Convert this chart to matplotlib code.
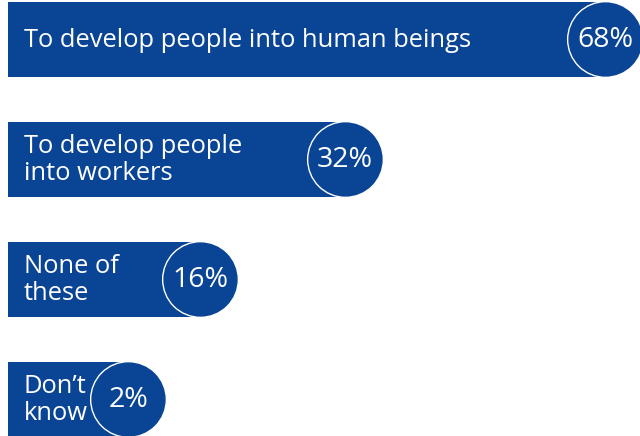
import numpy as np
import matplotlib
matplotlib.use("Agg")
import matplotlib.pyplot as plt
from matplotlib.transforms import blended_transform_factory

labels = ["To develop people into human beings", "To develop people\ninto workers", "None of\nthese", "Don\u2019t\nknow"]
values = [68, 32, 16, 2]
value_labels = ["68%", "32%", "16%", "2%"]

BLUE = "#0A4595"

# infographic-style (non-proportional) x scale: value -> pixel position
_v = np.array([-100.0, 0, 2, 16, 32, 68, 200])
_p = np.array([-5992.0, 8, 128, 200, 345, 605, 1558.3])
def fwd(v):
    return np.interp(v, _v, _p)
def inv(p):
    return np.interp(p, _p, _v)

fig = plt.figure(figsize=(6.4, 4.36), dpi=100)
ax = fig.add_axes([0, 0, 1, 1])
ax.set_xscale("function", functions=(fwd, inv))
ax.set_xlim(inv(0), inv(640))
ax.set_ylim(3.308, -0.325)
ax.axis("off")

y = np.arange(len(values))
ax.barh(y, values, left=0, height=0.625, color=BLUE, zorder=1)
ax.plot(values, y, linestyle="none", marker="o", markersize=54.5,
        markerfacecolor=BLUE, markeredgecolor="white", markeredgewidth=1.0, zorder=2)

tr = blended_transform_factory(ax.transAxes, ax.transData)
for i, (lab, v, vl) in enumerate(zip(labels, values, value_labels)):
    ax.text(24 / 640, i + 0.01, lab, transform=tr, ha="left", va="center", color="white",
            fontsize=18.4, family="Open Sans", linespacing=1.1, zorder=3)
    ax.text(v, i + 0.01, vl, ha="center", va="center", color="white",
            fontsize=20.5, family="Open Sans", zorder=3)

fig.savefig("out.png", dpi=100)
